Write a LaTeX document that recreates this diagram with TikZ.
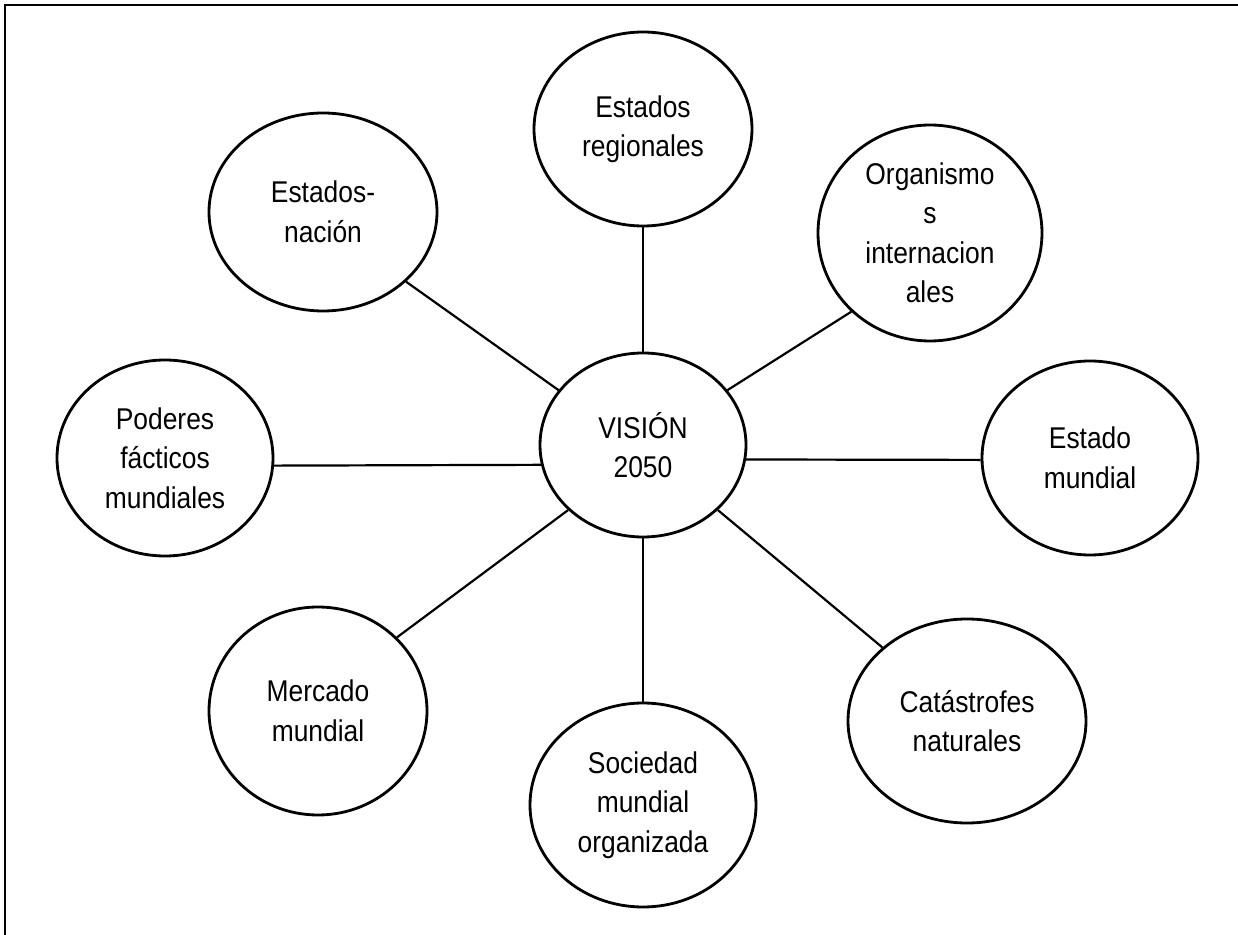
\documentclass[tikz,border=0pt]{standalone}
\usepackage{fontspec}
\setmainfont[FakeStretch=0.88]{Liberation Sans}
\usetikzlibrary{shapes.geometric}
\begin{document}
\begin{tikzpicture}[x=0.5pt,y=-0.5pt,
  bubble/.style={ellipse, draw, line width=1.4pt, inner sep=0pt, align=center,
    font=\fontsize{15pt}{19.75pt}\selectfont},
  link/.style={draw, line width=1.1pt},
  frame/.style={line width=1.1pt}]
\useasboundingbox (0,0) rectangle (1238,935);
\draw[frame] (5,935) -- (5,5) -- (1238,5);

\node[bubble, minimum width=103pt, minimum height=92pt]  (V)  at (643,445) {VISIÓN\\2050};
\node[bubble, minimum width=109pt, minimum height=97pt]  (ER) at (643,129) {Estados\\regionales};
\node[bubble, minimum width=114pt, minimum height=99pt]  (EN) at (323,212) {Estados-\\nación};
\node[bubble, minimum width=112pt, minimum height=108pt] (OI) at (930,233) {Organismo\\s\\internacion\\ales};
\node[bubble, minimum width=108pt, minimum height=98pt]  (PF) at (165,458) {Poderes\\fácticos\\mundiales};
\node[bubble, minimum width=108pt, minimum height=97pt]  (EM) at (1090,458) {Estado\\mundial};
\node[bubble, minimum width=109pt, minimum height=104pt] (MM) at (318,711) {Mercado\\mundial};
\node[bubble, minimum width=113pt, minimum height=102pt] (SO) at (643,805) {Sociedad\\mundial\\organizada};
\node[bubble, minimum width=119pt, minimum height=102pt] (CN) at (967,721) {Catástrofes\\naturales};

\draw[link] (V.147) -- (EN.-40);
\draw[link] (V.north) -- (ER.south);
\draw[link] (V.33) -- (OI.225);
\draw[link] (V.191) -- (PF.-4);
\draw[link] (V.-8) -- (EM.181);
\draw[link] (V.221) -- (MM.43);
\draw[link] (V.south) -- (SO.north);
\draw[link] (V.-41) -- (CN.139);
\end{tikzpicture}
\end{document}
